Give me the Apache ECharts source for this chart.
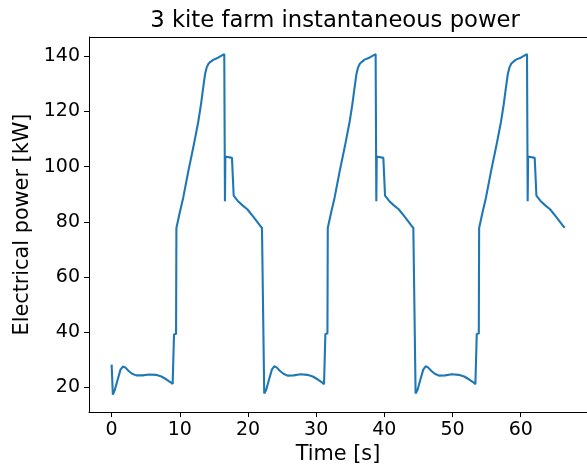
<!DOCTYPE html>
<html>
<head>
<meta charset="utf-8">
<script src="https://cdn.jsdelivr.net/npm/echarts@6/dist/echarts.min.js"></script>
<style>
  html, body { margin: 0; padding: 0; background: #fff; }
  #chart { width: 587px; height: 470px; }
</style>
</head>
<body>
<div id="chart"></div>
<script>
// Instantaneous electrical power of a three-kite farm over three pumping cycles.
const cycle1Time = [0, 0.18, 0.45, 0.9, 1.3, 1.65, 2.0, 2.5, 3.0, 3.6, 4.5, 5.5, 6.5, 7.3, 8.0, 8.6, 8.95, 9.15, 9.45, 9.5, 10.0, 10.5, 11.25, 12.0, 12.7, 13.1, 13.4, 13.7, 13.95, 14.2, 14.5, 14.9, 15.6, 16.52, 16.62, 16.68, 17.65, 17.9, 18.5, 19.2, 19.9, 20.8, 21.8, 22.05];
const cycle1Power = [28.3, 17.4, 19.0, 23.0, 26.5, 27.6, 27.3, 26.0, 25.0, 24.4, 24.4, 24.7, 24.6, 24.0, 23.0, 22.0, 21.3, 39.3, 39.4, 77.8, 83.5, 88.8, 98.4, 107.3, 116.2, 122.5, 128.1, 133.5, 136.0, 137.3, 138.0, 138.7, 139.5, 140.8, 87.5, 103.7, 103.2, 89.5, 87.6, 86.0, 84.6, 81.8, 78.6, 77.8];

const cycle2Time = [22.38, 22.65, 23.1, 23.5, 23.85, 24.2, 24.7, 25.2, 25.8, 26.7, 27.7, 28.7, 29.5, 30.2, 30.8, 31.15, 31.35, 31.65, 31.7, 32.2, 32.7, 33.45, 34.2, 34.9, 35.3, 35.6, 35.9, 36.15, 36.4, 36.7, 37.1, 37.8, 38.72, 38.82, 38.88, 39.85, 40.1, 40.7, 41.4, 42.1, 43.0, 44.0, 44.25];
const cycle2Power = [17.8, 19.0, 23.0, 26.5, 27.7, 27.3, 26.0, 25.0, 24.3, 24.4, 24.8, 24.6, 24.0, 23.0, 22.0, 21.2, 39.4, 39.6, 77.8, 83.5, 88.8, 98.4, 107.3, 116.2, 122.5, 128.1, 133.5, 136.0, 137.3, 138.0, 138.8, 139.5, 140.8, 87.5, 103.7, 103.2, 89.5, 87.6, 86.0, 84.6, 81.8, 78.6, 77.8];

const cycle3Time = [44.58, 44.85, 45.3, 45.7, 46.05, 46.4, 46.9, 47.4, 48.0, 48.9, 49.9, 50.9, 51.7, 52.4, 53.0, 53.35, 53.55, 53.85, 53.9, 54.4, 54.9, 55.65, 56.4, 57.1, 57.5, 57.8, 58.1, 58.35, 58.6, 58.9, 59.3, 60.0, 60.92, 61.02, 61.08, 62.05, 62.3, 62.9, 63.6, 64.3, 65.2, 66.2, 66.45];
const cycle3Power = [17.8, 19.0, 23.0, 26.5, 27.7, 27.3, 26.0, 25.0, 24.3, 24.4, 24.8, 24.6, 24.0, 23.0, 22.0, 21.2, 39.4, 39.6, 77.8, 83.5, 88.8, 98.4, 107.3, 116.2, 122.5, 128.1, 133.5, 136.0, 137.3, 138.0, 138.8, 139.5, 140.8, 87.5, 103.7, 103.2, 89.5, 87.6, 86.0, 84.6, 81.8, 78.6, 77.9];

const timeTicks = [0, 10, 20, 30, 40, 50, 60];
const powerTicks = [20, 40, 60, 80, 100, 120, 140];

const titleText = '3 kite farm instantaneous power';
const xLabel = 'Time [s]';
const yLabel = 'Electrical power [kW]';

function pairs(ts, ps) {
  return ts.map((t, i) => [t, ps[i]]);
}
const seriesData = [].concat(
  pairs(cycle1Time, cycle1Power),
  pairs(cycle2Time, cycle2Power),
  pairs(cycle3Time, cycle3Power)
);

const FONT = 'DejaVu Sans';
const chart = echarts.init(document.getElementById('chart'), null, { renderer: 'canvas' });

chart.setOption({
  animation: false,
  backgroundColor: '#ffffff',
  title: {
    text: titleText,
    left: 330,
    textAlign: 'center',
    top: 5,
    textStyle: { fontFamily: FONT, fontSize: 22.7, fontWeight: 'normal', color: '#000' }
  },
  // the axes box runs past the right edge of the canvas
  grid: { left: 89, top: 37, width: 508, height: 381, containLabel: false },
  xAxis: {
    type: 'value',
    min: -3.32,
    max: 69.72,
    name: xLabel,
    nameLocation: 'middle',
    nameGap: 31,
    nameTextStyle: { fontFamily: FONT, fontSize: 20.8, color: '#000', verticalAlign: 'top' },
    splitLine: { show: false },
    axisLine: { show: true, onZero: false, lineStyle: { color: '#000', width: 1 } },
    axisTick: { show: true, inside: false, length: 5, lineStyle: { color: '#000', width: 1 }, customValues: timeTicks },
    axisLabel: { fontFamily: FONT, fontSize: 19, color: '#000', margin: 8, customValues: timeTicks }
  },
  yAxis: {
    type: 'value',
    min: 11.1,
    max: 147,
    name: yLabel,
    nameLocation: 'middle',
    nameGap: 48,
    nameRotate: 90,
    nameTextStyle: { fontFamily: FONT, fontSize: 20.8, color: '#000' },
    splitLine: { show: false },
    axisLine: { show: true, onZero: false, lineStyle: { color: '#000', width: 1 } },
    axisTick: { show: true, inside: false, length: 5, lineStyle: { color: '#000', width: 1 }, customValues: powerTicks },
    axisLabel: { fontFamily: FONT, fontSize: 19, color: '#000', margin: 9, customValues: powerTicks }
  },
  series: [{
    type: 'line',
    data: seriesData,
    showSymbol: false,
    symbol: 'none',
    smooth: false,
    lineStyle: { color: '#1f77b4', width: 2.1 },
    clip: true
  }],
  graphic: [{
    type: 'line',
    shape: { x1: 89, y1: 37.5, x2: 587, y2: 37.5 },
    style: { stroke: '#000', lineWidth: 1 },
    silent: true
  }]
});
</script>
</body>
</html>
